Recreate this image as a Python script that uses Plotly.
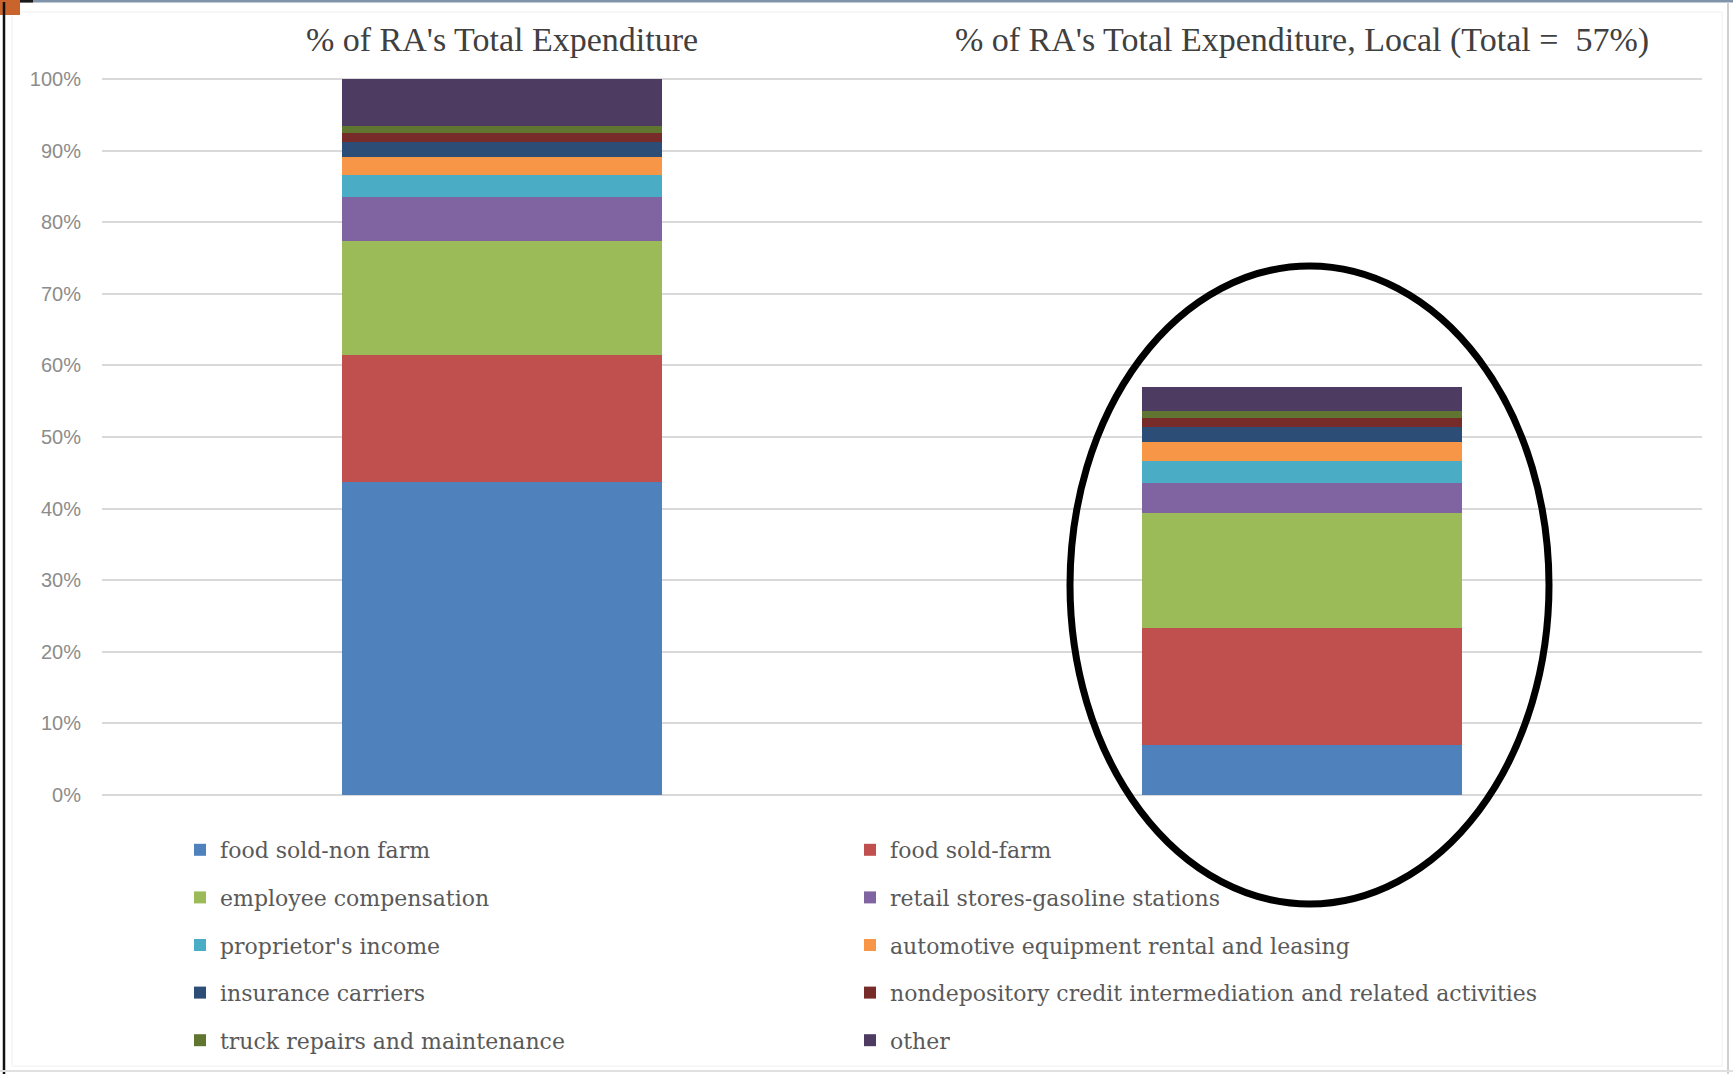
import plotly.graph_objects as go

# ---------------- data ----------------
categories = [
    "% of RA's Total Expenditure",
    "% of RA's Total Expenditure, Local (Total =\u00a0 57%)",
]
series_names = [
    "food sold-non farm",
    "food sold-farm",
    "employee compensation",
    "retail stores-gasoline stations",
    "proprietor's income",
    "automotive equipment rental and leasing",
    "insurance carriers",
    "nondepository credit intermediation and related activities",
    "truck repairs and maintenance",
    "other",
]
food_sold_non_farm = [43.7, 7.0]
food_sold_farm = [17.8, 16.3]
employee_compensation = [15.9, 16.1]
retail_gasoline = [6.1, 4.2]
proprietors_income = [3.1, 3.0]
automotive_rental = [2.6, 2.7]
insurance_carriers = [2.1, 2.1]
nondepository_credit = [1.2, 1.3]
truck_repairs = [1.0, 1.0]
other = [6.5, 3.3]
series_values = [
    food_sold_non_farm, food_sold_farm, employee_compensation, retail_gasoline,
    proprietors_income, automotive_rental, insurance_carriers,
    nondepository_credit, truck_repairs, other,
]
colors = ["#4F81BD", "#C0504D", "#9BBB59", "#8064A2", "#4BACC6",
          "#F79646", "#2C4D75", "#772C2A", "#5F7530", "#4D3B62"]
y_ticks = [0, 10, 20, 30, 40, 50, 60, 70, 80, 90, 100]
y_tick_labels = ["0%", "10%", "20%", "30%", "40%", "50%",
                 "60%", "70%", "80%", "90%", "100%"]

# ---------------- layout geometry (pixels) ----------------
W, H = 1733, 1074
ML, MR, MT, MB = 102, 31, 78, 278
PW, PH = W - ML - MR, H - MT - MB


def px(x):
    return (x - ML) / PW


def py(y):
    return (H - MB - y) / PH


fig = go.Figure()
for i, (name, vals, col) in enumerate(zip(series_names, series_values, colors)):
    fig.add_trace(go.Bar(
        x=categories, y=vals, name=name,
        marker=dict(color=col, line=dict(width=0)),
        legend="legend" if i % 2 == 0 else "legend2",
        legendgroup=name,
    ))

legend_common = dict(
    orientation="v", traceorder="grouped", tracegroupgap=16,
    font=dict(family="DejaVu Serif", size=22, color="#595959"),
    bgcolor="rgba(0,0,0,0)", yanchor="top", xanchor="left",
    itemwidth=30, itemclick=False,
)

shapes = [
    # highlight ellipse
    dict(type="circle", xref="paper", yref="paper",
         x0=px(1070), x1=px(1549), y0=py(904), y1=py(266),
         line=dict(color="black", width=7), fillcolor="rgba(0,0,0,0)"),
    # screenshot frame
    dict(type="rect", xref="paper", yref="paper",
         x0=px(12), x1=px(1722), y0=py(1066), y1=py(12),
         line=dict(color="#f0f0f0", width=1)),
    dict(type="line", xref="paper", yref="paper",
         x0=px(20), x1=px(W), y0=py(1), y1=py(1),
         line=dict(color="#7f93aa", width=3)),
    dict(type="line", xref="paper", yref="paper",
         x0=px(20), x1=px(33), y0=py(1), y1=py(1),
         line=dict(color="#1a1a1a", width=3)),
    dict(type="rect", xref="paper", yref="paper",
         x0=px(0), x1=px(20), y0=py(15), y1=py(0),
         line=dict(width=0), fillcolor="#c8642c"),
    dict(type="line", xref="paper", yref="paper",
         x0=px(4), x1=px(4), y0=py(H), y1=py(2),
         line=dict(color="#111111", width=2.5)),
    dict(type="line", xref="paper", yref="paper",
         x0=px(1728), x1=px(1728), y0=py(H), y1=py(2),
         line=dict(color="#d0d0d0", width=2)),
    dict(type="line", xref="paper", yref="paper",
         x0=px(0), x1=px(W), y0=py(1071), y1=py(1071),
         line=dict(color="#e0e0e0", width=2)),
]

fig.update_layout(
    width=W, height=H,
    margin=dict(l=ML, r=MR, t=MT, b=MB, pad=0),
    barmode="stack", bargap=0.6,
    paper_bgcolor="white", plot_bgcolor="white",
    showlegend=True,
    legend=dict(**legend_common, x=px(180), y=py(829)),
    legend2=dict(**legend_common, x=px(850), y=py(829)),
    xaxis=dict(
        side="top", showgrid=False, showline=False, zeroline=False,
        ticks="", ticklabelstandoff=19,
        tickfont=dict(family="Liberation Serif", size=34, color="#404040"),
        fixedrange=True,
    ),
    yaxis=dict(
        range=[-0.2, 100.2], tickvals=y_ticks, ticktext=y_tick_labels,
        showgrid=True, gridcolor="#d9d9d9", gridwidth=2,
        zeroline=False, showline=False, ticks="",
        ticklabelstandoff=20,
        tickfont=dict(family="Liberation Sans", size=20, color="#8c8c8c"),
        fixedrange=True,
    ),
    shapes=shapes,
)

fig.write_html(
    "out.html",
    config={"displayModeBar": False, "staticPlot": False},
    post_script="document.body.style.margin='0';document.body.style.overflow='hidden';",
)
